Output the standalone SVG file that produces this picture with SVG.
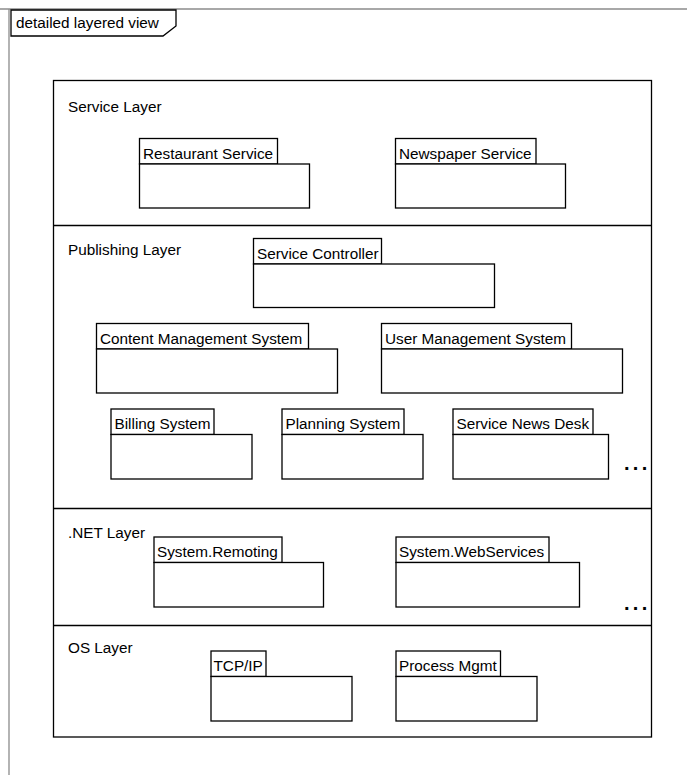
<svg xmlns="http://www.w3.org/2000/svg" width="687" height="775" viewBox="0 0 687 775">
  <style>
    text { font-family: "Liberation Sans", Arial, sans-serif; font-size: 15.3px; fill: #000; }
    .frame { fill: none; stroke: #8c8c8c; stroke-width: 1.3; }
    .box { fill: #fff; stroke: #000; stroke-width: 1.3; }
    .sep { stroke: #000; stroke-width: 1.3; fill: none; }
    .more { font-weight: bold; font-size: 20px; letter-spacing: 3.3px; }
  </style>

  <!-- diagram frame -->
  <g id="frame">
    <path class="frame" d="M0,9 H687 M9,9 V775"/>
    <path class="box" d="M11,10 H176 V26 L163,36 H11 Z"/>
    <text x="16" y="28">detailed layered view</text>
  </g>

  <!-- layer stack -->
  <g id="layers">
    <rect class="box" x="53.5" y="80.5" width="598" height="656.5"/>
    <path class="sep" d="M53.5,225.5 H651.5 M53.5,508.5 H651.5 M53.5,625.5 H651.5"/>
    <text x="68" y="112">Service Layer</text>
    <text x="68" y="254.5">Publishing Layer</text>
    <text x="68" y="538">.NET Layer</text>
    <text x="68" y="653">OS Layer</text>
    <text class="more" x="624" y="470">...</text>
    <text class="more" x="624" y="610">...</text>
  </g>

  <!-- Service Layer packages -->
  <g id="restaurant-service">
    <rect class="box" x="139.5" y="138.5" width="138" height="25.5"/>
    <rect class="box" x="139.5" y="164" width="170" height="44"/>
    <text x="143" y="158.5">Restaurant Service</text>
  </g>
  <g id="newspaper-service">
    <rect class="box" x="395.5" y="138.5" width="140.5" height="25.5"/>
    <rect class="box" x="395.5" y="164" width="170" height="44"/>
    <text x="399" y="158.5">Newspaper Service</text>
  </g>

  <!-- Publishing Layer packages -->
  <g id="service-controller">
    <rect class="box" x="253.5" y="238.5" width="128" height="25.5"/>
    <rect class="box" x="253.5" y="264" width="241" height="43.5"/>
    <text x="257" y="258.5">Service Controller</text>
  </g>
  <g id="content-management-system">
    <rect class="box" x="96.5" y="323.5" width="212" height="25.5"/>
    <rect class="box" x="96.5" y="349" width="241" height="44"/>
    <text x="100" y="343.5">Content Management System</text>
  </g>
  <g id="user-management-system">
    <rect class="box" x="381.5" y="323.5" width="190" height="25.5"/>
    <rect class="box" x="381.5" y="349" width="241" height="44"/>
    <text x="385" y="343.5">User Management System</text>
  </g>
  <g id="billing-system">
    <rect class="box" x="111" y="409" width="103" height="25.5"/>
    <rect class="box" x="111" y="434.5" width="141" height="44.5"/>
    <text x="114.5" y="429">Billing System</text>
  </g>
  <g id="planning-system">
    <rect class="box" x="282" y="409" width="122" height="25.5"/>
    <rect class="box" x="282" y="434.5" width="141" height="44.5"/>
    <text x="285.5" y="429">Planning System</text>
  </g>
  <g id="service-news-desk">
    <rect class="box" x="453" y="409" width="140" height="25.5"/>
    <rect class="box" x="453" y="434.5" width="155.5" height="44.5"/>
    <text x="456.5" y="429">Service News Desk</text>
  </g>

  <!-- .NET Layer packages -->
  <g id="system-remoting">
    <rect class="box" x="154" y="537" width="128" height="25.5"/>
    <rect class="box" x="154" y="562.5" width="169.5" height="44.5"/>
    <text x="157" y="557">System.Remoting</text>
  </g>
  <g id="system-webservices">
    <rect class="box" x="396" y="537" width="153" height="25.5"/>
    <rect class="box" x="396" y="562.5" width="183.5" height="44.5"/>
    <text x="399" y="557">System.WebServices</text>
  </g>

  <!-- OS Layer packages -->
  <g id="tcp-ip">
    <rect class="box" x="211" y="651" width="55" height="25.5"/>
    <rect class="box" x="211" y="676.5" width="141" height="44.5"/>
    <text x="213.5" y="671">TCP/IP</text>
  </g>
  <g id="process-mgmt">
    <rect class="box" x="396" y="651" width="104.5" height="25.5"/>
    <rect class="box" x="396" y="676.5" width="141" height="44.5"/>
    <text x="399" y="671">Process Mgmt</text>
  </g>

  <!-- no connectors in this view -->
  <g id="connectors"/>
</svg>
